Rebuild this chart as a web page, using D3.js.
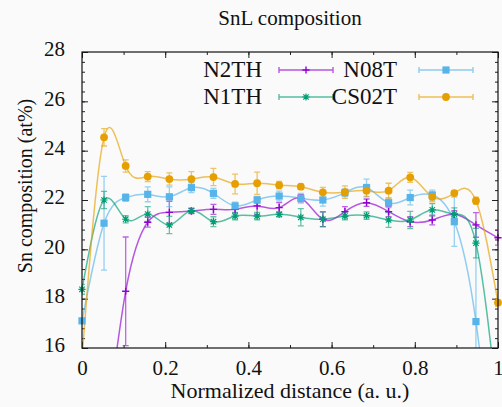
<!DOCTYPE html>
<html>
<head>
<meta charset="utf-8">
<script src="https://cdn.jsdelivr.net/npm/d3@7"></script>
<style>
  svg text { font-family: 'Liberation Serif', 'Times New Roman', serif !important; }
</style>
</head>
<body style="margin:0;background:#fafafa">
<svg id="chart" width="502" height="407"></svg>
<script>
// normalized positions of the 20 measuring points
const xs = [0, 0.053, 0.105, 0.158, 0.21, 0.263, 0.316, 0.368, 0.421, 0.474,
            0.526, 0.579, 0.632, 0.684, 0.737, 0.789, 0.842, 0.895, 0.947, 1.0];

const n2th = [6.0, 12.0, 18.3, 21.1, 21.5, 21.55, 21.62, 21.62, 21.76, 21.69,
              22.07, 21.22, 21.53, 21.89, 21.53, 21.12, 21.19, 21.42, 20.99, 20.47];
const n2thErr = [0.3, 0.3, 2.2, 0.2, 0.45, 0.1, 0.2, 0.15, 0.35, 0.2,
                 0.15, 0.3, 0.2, 0.15, 0.2, 0.2, 0.2, 0.15, 0.5, 0.3];

const n08t = [17.1, 21.06, 22.1, 22.23, 22.13, 22.5, 22.27, 21.76, 22.0, 22.16,
              22.07, 22.0, 22.3, 22.5, 21.89, 22.1, 22.2, 21.12, 17.07, 9.0];
const n08tErr = [0.1, 1.9, 0.15, 0.3, 0.4, 0.2, 0.2, 0.15, 0.15, 0.2,
                 0.2, 0.25, 0.15, 0.35, 0.2, 0.3, 0.2, 1.0, 3.9, 0.5];

const n1th = [18.38, 22.0, 21.22, 21.43, 20.99, 21.57, 21.12, 21.35, 21.35, 21.42,
              21.3, 21.22, 21.35, 21.37, 21.19, 21.19, 21.6, 21.43, 20.25, 13.5];
const n1thErr = [0.2, 0.35, 0.15, 0.3, 0.35, 0.1, 0.2, 0.15, 0.15, 0.1,
                 0.35, 0.3, 0.15, 0.15, 0.3, 0.35, 0.25, 0.25, 0.6, 0.3];

const cs02t = [15.6, 24.54, 23.38, 22.95, 22.85, 22.85, 22.93, 22.65, 22.68, 22.6,
               22.54, 22.31, 22.32, 22.38, 22.38, 22.92, 22.13, 22.28, 21.97, 17.84];
const cs02tErr = [0.2, 0.35, 0.25, 0.2, 0.25, 0.3, 0.35, 0.4, 0.45, 0.15,
                  0.1, 0.2, 0.25, 0.25, 0.3, 0.2, 0.2, 0.1, 0.15, 0.15];

const xTicks = [0, 0.2, 0.4, 0.6, 0.8, 1];
const yTicks = [16, 18, 20, 22, 24, 26, 28];

const series = [
  { name: 'N2TH', vals: n2th, err: n2thErr, color: '#9400d3', marker: 'plus' },
  { name: 'N08T', vals: n08t, err: n08tErr, color: '#56b4e9', marker: 'square' },
  { name: 'N1TH', vals: n1th, err: n1thErr, color: '#009e73', marker: 'star' },
  { name: 'CS02T', vals: cs02t, err: cs02tErr, color: '#e69f00', marker: 'circle' }
];

const FONT = 'Times New Roman';

const W = 502, H = 407;
const margin = { top: 52, right: 4, bottom: 59, left: 82 };
const iw = W - margin.left - margin.right;
const ih = H - margin.top - margin.bottom;

const svg = d3.select('#chart');
svg.append('rect').attr('width', W).attr('height', H).attr('fill', '#fafafa');

const x = d3.scaleLinear().domain([0, 1]).range([0, iw]);
const y = d3.scaleLinear().domain([16, 28]).range([ih, 0]);

svg.append('defs').append('clipPath').attr('id', 'plotclip')
  .append('rect').attr('width', iw).attr('height', ih);

const g = svg.append('g').attr('transform', `translate(${margin.left},${margin.top})`);

// axes: gnuplot style, ticks inward on all four sides
const tickFmt = d => d3.format('~g')(d);
const minorX = d3.range(0, 1.0001, 0.1);
const minorY = d3.range(16, 28.001, 0.4);

g.append('g').attr('transform', `translate(0,${ih})`)
  .call(d3.axisBottom(x).tickValues(minorX).tickSize(-3).tickFormat(''));
g.append('g').attr('transform', `translate(0,${ih})`)
  .call(d3.axisBottom(x).tickValues(xTicks).tickSize(-6).tickFormat(tickFmt).tickPadding(12));
g.append('g')
  .call(d3.axisTop(x).tickValues(minorX).tickSize(-3).tickFormat(''));
g.append('g')
  .call(d3.axisTop(x).tickValues(xTicks).tickSize(-6).tickFormat(''));
g.append('g')
  .call(d3.axisLeft(y).tickValues(minorY).tickSize(-3).tickFormat(''));
g.append('g').attr('class', 'yleft')
  .call(d3.axisLeft(y).tickValues(yTicks).tickSize(-6).tickFormat(tickFmt).tickPadding(17));
g.append('g').attr('transform', `translate(${iw},0)`)
  .call(d3.axisRight(y).tickValues(minorY).tickSize(-3).tickFormat(''));
g.append('g').attr('transform', `translate(${iw},0)`)
  .call(d3.axisRight(y).tickValues(yTicks).tickSize(-6).tickFormat(''));

g.selectAll('.domain').remove();
g.selectAll('g').attr('font-family', FONT);
g.selectAll('.tick line').attr('stroke', '#222').attr('stroke-width', 1);
g.selectAll('.tick text').attr('font-family', FONT).attr('font-size', 21).attr('fill', '#111');
g.selectAll('.yleft .tick text').attr('dy', '0.18em');

// data layer
const plot = g.append('g').attr('clip-path', 'url(#plotclip)');
const line = d3.line().x((d, i) => x(xs[i])).y(d => y(d)).curve(d3.curveNatural);

function drawMarker(sel, type, color, cx, cy) {
  const s = 3.6;
  if (type === 'square') {
    sel.append('rect').attr('x', cx - s).attr('y', cy - s).attr('width', 2 * s).attr('height', 2 * s).attr('fill', color);
  } else if (type === 'circle') {
    sel.append('circle').attr('cx', cx).attr('cy', cy).attr('r', 3.9).attr('fill', color);
  } else if (type === 'plus') {
    sel.append('path').attr('d', `M${cx - s},${cy}H${cx + s}M${cx},${cy - s}V${cy + s}`)
      .attr('stroke', color).attr('stroke-width', 1.4).attr('fill', 'none');
  } else if (type === 'star') {
    sel.append('path').attr('d', `M${cx - s},${cy}H${cx + s}M${cx},${cy - s}V${cy + s}` +
        `M${cx - s * 0.75},${cy - s * 0.75}L${cx + s * 0.75},${cy + s * 0.75}` +
        `M${cx - s * 0.75},${cy + s * 0.75}L${cx + s * 0.75},${cy - s * 0.75}`)
      .attr('stroke', color).attr('stroke-width', 1.2).attr('fill', 'none');
  }
}

series.forEach(s => {
  plot.append('path').datum(s.vals).attr('d', line)
    .attr('fill', 'none').attr('stroke', s.color).attr('stroke-width', 1.5).attr('stroke-opacity', 0.65);

  const eb = plot.append('g').attr('stroke', s.color).attr('stroke-width', 1.3).attr('stroke-opacity', 0.6);
  s.vals.forEach((v, i) => {
    const cx = x(xs[i]);
    const y0 = y(v - s.err[i]), y1 = y(v + s.err[i]);
    eb.append('path').attr('fill', 'none')
      .attr('d', `M${cx},${y0}V${y1}M${cx - 3},${y0}H${cx + 3}M${cx - 3},${y1}H${cx + 3}`);
  });
});

series.forEach(s => {
  const mk = g.append('g');
  s.vals.forEach((v, i) => {
    if (v < 16 || v > 28) return;
    drawMarker(mk, s.marker, s.color, x(xs[i]), y(v));
  });
});

// border
g.append('rect').attr('width', iw).attr('height', ih)
  .attr('fill', 'none').attr('stroke', '#111').attr('stroke-width', 1.2);

// legend, two columns
const legendPos = [
  { tx: 262, lx: 279, ly: 70 },
  { tx: 397, lx: 419, ly: 70 },
  { tx: 262, lx: 279, ly: 97 },
  { tx: 397, lx: 419, ly: 97 }
];
series.forEach((s, k) => {
  const p = legendPos[k];
  svg.append('text').attr('x', p.tx).attr('y', p.ly + 7).attr('text-anchor', 'end')
    .attr('font-family', FONT).attr('font-size', 23).attr('fill', '#111').text(s.name);
  const lg = svg.append('g');
  lg.append('path')
    .attr('d', `M${p.lx},${p.ly}H${p.lx + 54}M${p.lx},${p.ly - 3}V${p.ly + 3}M${p.lx + 54},${p.ly - 3}V${p.ly + 3}`)
    .attr('stroke', s.color).attr('stroke-width', 1.4).attr('stroke-opacity', 0.65).attr('fill', 'none');
  drawMarker(lg, s.marker, s.color, p.lx + 27, p.ly);
});

// titles
svg.append('text').attr('x', margin.left + iw / 2).attr('y', 25).attr('text-anchor', 'middle')
  .attr('font-family', FONT).attr('font-size', 21).attr('fill', '#111').text('SnL composition');
svg.append('text').attr('x', margin.left + iw / 2).attr('y', 398).attr('text-anchor', 'middle')
  .attr('font-family', FONT).attr('font-size', 22).attr('fill', '#111').text('Normalized distance (a. u.)');
svg.append('text').attr('transform', 'translate(32,186) rotate(-90)').attr('text-anchor', 'middle')
  .attr('font-family', FONT).attr('font-size', 20).attr('fill', '#111').text('Sn composition (at%)');
</script>
</body>
</html>
